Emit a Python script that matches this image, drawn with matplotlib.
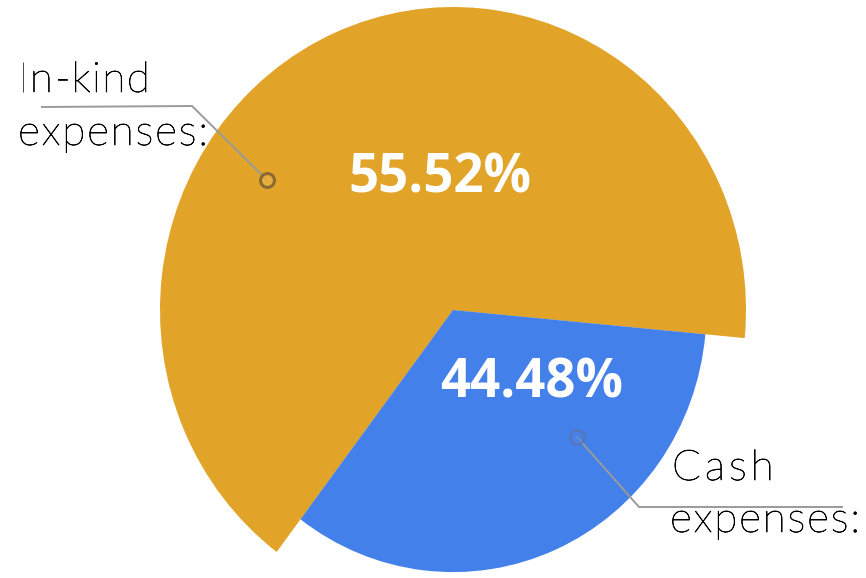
import matplotlib
matplotlib.use("Agg")
import matplotlib.pyplot as plt
import matplotlib.patheffects as pe
from matplotlib.patches import Wedge
from matplotlib.font_manager import FontProperties, findfont
from matplotlib.ft2font import FT2Font

# ---- data ----
categories = ["In-kind expenses:", "Cash expenses:"]
pct_labels = ["55.52%", "44.48%"]
slice_share = [66.2, 33.8]          # angular share as drawn in the reference
slice_radius = [1.0, 0.865]         # relative radius of each slice
colors = ["#E1A429", "#4480EA"]

W, H = 866, 578
DPI = 100
fig = plt.figure(figsize=(W / DPI, H / DPI), dpi=DPI)
ax = fig.add_axes([0, 0, 1, 1])

def fx(x, y):
    return (x / W, 1 - y / H)

wedges, _ = ax.pie(slice_share, colors=colors, startangle=233, counterclock=False,
                   radius=1.0, wedgeprops=dict(linewidth=0))
for w, r in zip(wedges, slice_radius):
    w.set_radius(r)

# centre / scale in pixels
cx, cy, sx, sy = 453, 310, 293, 303
ax.set_aspect("auto")
ax.set_xlim(-cx / sx, (W - cx) / sx)
ax.set_ylim(-(H - cy) / sy, cy / sy)
ax.axis("off")

# soft shadow of blue slice on orange slice
b = wedges[1]
for k, a in [(4, 0.06), (3, 0.08), (2, 0.10)]:
    sh = Wedge((-k / sx, k / sy), b.r, b.theta1, b.theta2, facecolor="black",
               alpha=a, linewidth=0, zorder=b.get_zorder() - 0.5)
    ax.add_patch(sh)
    sh.set_clip_path(wedges[0])

# percentage labels
pct_pos = [(440, 178), (532, 383)]
for txt, (x, y) in zip(pct_labels, pct_pos):
    fig.text(*fx(x, y), txt, ha="center", va="center", color="white",
             fontsize=38, fontweight="bold", family="Open Sans")

# leader lines and markers
line_kw = dict(color="#9a9a9a", lw=1.4, transform=fig.transFigure)
xs, ys = zip(*[fx(42, 107), fx(192, 106), fx(267, 180)])
fig.add_artist(plt.Line2D(xs, ys, **line_kw))
fig.add_artist(plt.Line2D([fx(267, 180)[0]], [fx(267, 180)[1]], marker="o", ms=10,
                          mfc="#E8B040", mec="#7d6030", mew=2.2, alpha=0.85,
                          transform=fig.transFigure))
xs, ys = zip(*[fx(577, 437), fx(639, 507), fx(842, 507)])
fig.add_artist(plt.Line2D(xs, ys, **line_kw))
fig.add_artist(plt.Line2D([fx(577, 437)[0]], [fx(577, 437)[1]], marker="o", ms=10,
                          mfc="#4a85ea", mec="#6070a0", mew=2.0, alpha=0.6,
                          transform=fig.transFigure))

# category labels with letter spacing
LAB_SIZE = 30.5
prop = FontProperties(family="Lato", weight="light", size=LAB_SIZE)
font = FT2Font(findfont(prop))
font.set_size(LAB_SIZE, DPI)
effects = [pe.withStroke(linewidth=0.5, foreground="black")]

def spaced_text(x0, y0, s, spacing=1.8):
    x = x0
    for ch in s:
        fig.text(*fx(x, y0), ch, fontproperties=prop, color="black",
                 ha="left", va="baseline", path_effects=effects)
        g = font.load_char(ord(ch))
        x += g.linearHoriAdvance / 65536 + spacing

spaced_text(18, 92, "In-kind", 1.5)
spaced_text(18, 145, "expenses:")
spaced_text(672, 480, "Cash", 4.0)
spaced_text(670, 532, "expenses:")

fig.savefig("out.png", dpi=DPI)
